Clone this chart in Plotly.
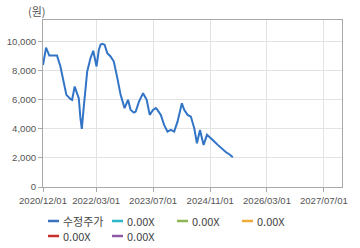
import plotly.graph_objects as go

# ---- data ----
dates = ["2020-12-01", "2020-12-27", "2021-01-24", "2021-03-31", "2021-04-29", "2021-05-27",
         "2021-06-19", "2021-07-23", "2021-08-07", "2021-08-29", "2021-09-19", "2021-10-03",
         "2021-10-17", "2021-10-29", "2021-11-15", "2021-12-14", "2022-01-11", "2022-02-04",
         "2022-03-04", "2022-03-24", "2022-04-07", "2022-04-22", "2022-05-12", "2022-06-04",
         "2022-07-02", "2022-07-30", "2022-08-29", "2022-09-26", "2022-10-30", "2022-11-28",
         "2022-12-21", "2023-01-18", "2023-02-02", "2023-03-02", "2023-04-06", "2023-05-07",
         "2023-06-02", "2023-06-30", "2023-07-24", "2023-08-07", "2023-09-05", "2023-10-03",
         "2023-11-01", "2023-11-30", "2023-12-28", "2024-01-26", "2024-03-03", "2024-03-23",
         "2024-04-21", "2024-05-19", "2024-06-17", "2024-07-10", "2024-08-05", "2024-08-19",
         "2024-09-05", "2024-10-04", "2024-10-24", "2024-11-22", "2025-01-04", "2025-02-16",
         "2025-03-16", "2025-04-13", "2025-05-13"]
prices = [8400, 9600, 9050, 9050, 8300, 7260,
          6345, 6070, 6000, 6917, 6460, 6115,
          4760, 4000, 5538, 7950, 8870, 9380,
          8300, 9450, 9800, 9860, 9800, 9220,
          8990, 8640, 7500, 6345, 5430, 6000,
          5310, 5120, 5190, 5880, 6460, 6000,
          4965, 5310, 5430, 5310, 4965, 4275,
          3810, 3930, 3810, 4500, 5770, 5310,
          4965, 4850, 4050, 3010, 3930, 3520,
          2900, 3590, 3470, 3240, 2900, 2550,
          2390, 2255, 2050]

series_names = ["수정주가", "0.00X", "0.00X", "0.00X", "0.00X", "0.00X"]
series_colors = ["#3a72c0", "#2bb7c9", "#8db553", "#f0aa3a", "#c8302c", "#8d5aa7"]

x_ticks = ["2020-12-01", "2022-03-01", "2023-07-01", "2024-11-01", "2026-03-01", "2027-07-01"]
x_tick_text = ["2020/12/01", "2022/03/01", "2023/07/01", "2024/11/01", "2026/03/01", "2027/07/01"]
y_ticks = [0, 2000, 4000, 6000, 8000, 10000]
unit_label = "(원)"

# ---- layout geometry (pixels) ----
W, H = 360, 248
L, R, T, B = 43, 18, 20, 61
pw, ph = W - L - R, H - T - B


def px_x(x):
    return (x - L) / pw


def px_y(y):
    return (H - B - y) / ph


fig = go.Figure()
fig.add_trace(go.Scatter(x=dates, y=prices, mode="lines", name=series_names[0],
                         line=dict(color="#3274c6", width=2), showlegend=False,
                         hoverinfo="skip"))
for n, c in zip(series_names[1:], series_colors[1:]):
    fig.add_trace(go.Scatter(x=[], y=[], mode="lines", name=n,
                             line=dict(color=c, width=2), showlegend=False))

tick_font = dict(family="Liberation Sans, Arial, sans-serif", size=9.6, color="#555555")

fig.update_layout(
    width=W, height=H,
    margin=dict(l=L, r=R, t=T, b=B, pad=0, autoexpand=False),
    paper_bgcolor="white", plot_bgcolor="white",
    xaxis=dict(type="date", range=["2020-12-01", "2027-12-03"],
               tickvals=x_ticks, ticktext=x_tick_text, tickfont=tick_font, tickangle=0,
               automargin=False,
               showgrid=True, gridcolor="#e3e3e3", gridwidth=1,
               showline=True, linecolor="#a8a8a8", linewidth=1, mirror=True,
               ticks="outside", ticklen=4, tickcolor="#a8a8a8", zeroline=False),
    yaxis=dict(range=[0, 11500], tickvals=y_ticks, tickformat=",", tickfont=tick_font,
               automargin=False,
               showgrid=True, gridcolor="#e3e3e3", gridwidth=1,
               showline=True, linecolor="#a8a8a8", linewidth=1, mirror=True,
               ticks="outside", ticklen=4, tickcolor="#a8a8a8", zeroline=False),
    showlegend=False,
)

# unit label
fig.add_annotation(text=unit_label, xref="paper", yref="paper",
                   x=px_x(37), y=px_y(11), xanchor="center", yanchor="middle",
                   showarrow=False,
                   font=dict(family="Noto Sans CJK KR, sans-serif", size=11, color="#555555"))

# manual legend (two rows)
leg_pos = [(48, 221), (112, 221), (177, 221), (242, 221), (48, 236), (112, 236)]
for (lx, ly), n, c in zip(leg_pos, series_names, series_colors):
    fig.add_shape(type="line", xref="paper", yref="paper",
                  x0=px_x(lx), x1=px_x(lx + 11), y0=px_y(ly), y1=px_y(ly),
                  line=dict(color=c, width=2.5))
    fig.add_annotation(text=n, xref="paper", yref="paper",
                       x=px_x(lx + 13), y=px_y(ly), xanchor="left", yanchor="middle",
                       showarrow=False,
                       font=dict(family="Noto Sans CJK KR, Liberation Sans, sans-serif",
                                 size=11, color="#444444"))

fig.write_html("out.html")
